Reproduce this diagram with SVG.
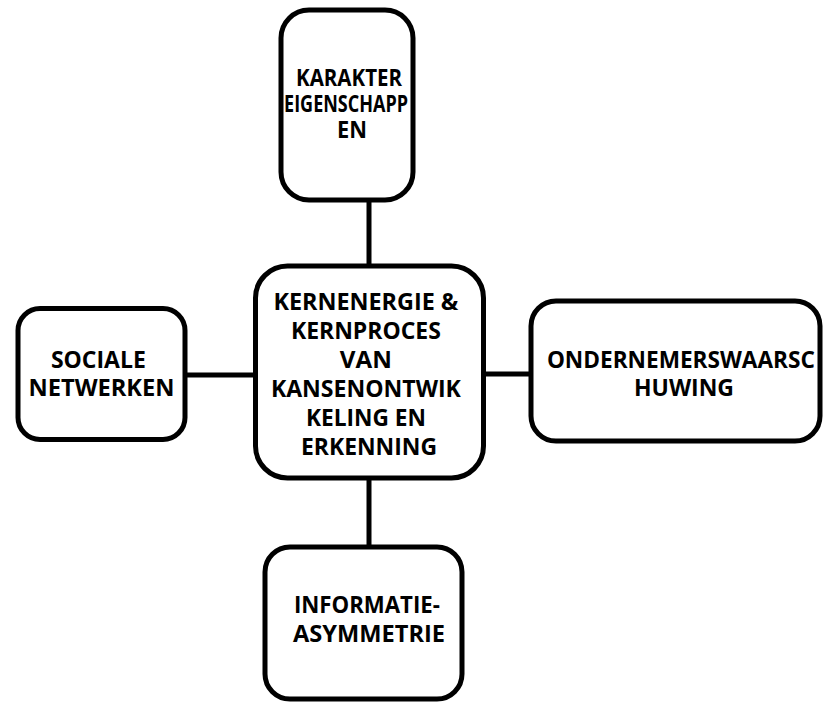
<svg xmlns="http://www.w3.org/2000/svg" width="832" height="710" viewBox="0 0 832 710">
  <style>
    .box { fill: #ffffff; stroke: #000000; stroke-width: 5; }
    .link { stroke: #000000; stroke-width: 5; fill: none; }
    .label { font-family: "Open Sans", "Liberation Sans", sans-serif; font-weight: 700; font-size: 24px; fill: #000000; text-anchor: middle; }
    .narrow { font-size: 22.5px; }
  </style>
  <rect x="0" y="0" width="832" height="710" fill="#ffffff"/>

  <!-- connectors between the central node and its four neighbours -->
  <g id="connectors">
    <line class="link" x1="369" y1="200" x2="369" y2="266"/>
    <line class="link" x1="369" y1="478" x2="369" y2="547"/>
    <line class="link" x1="185" y1="375" x2="256" y2="375"/>
    <line class="link" x1="484" y1="374" x2="531" y2="374"/>
  </g>

  <g id="node-karakter">
    <rect class="box" x="281" y="10" width="132" height="190" rx="28"/>
    <text class="label narrow">
      <tspan x="352" y="86" textLength="106" lengthAdjust="spacingAndGlyphs">KARAKTER</tspan>
      <tspan x="349" y="112" textLength="124" lengthAdjust="spacingAndGlyphs">EIGENSCHAPP</tspan>
      <tspan x="352" y="138" textLength="30" lengthAdjust="spacingAndGlyphs">EN</tspan>
    </text>
  </g>

  <g id="node-kern">
    <rect class="box" x="255.5" y="266" width="228" height="212" rx="32"/>
    <text class="label">
      <tspan x="369" y="310" textLength="185" lengthAdjust="spacingAndGlyphs">KERNENERGIE &amp;</tspan>
      <tspan x="369" y="339" textLength="150" lengthAdjust="spacingAndGlyphs">KERNPROCES</tspan>
      <tspan x="369" y="368" textLength="52" lengthAdjust="spacingAndGlyphs">VAN</tspan>
      <tspan x="369" y="397" textLength="190" lengthAdjust="spacingAndGlyphs">KANSENONTWIK</tspan>
      <tspan x="369" y="426" textLength="120" lengthAdjust="spacingAndGlyphs">KELING EN</tspan>
      <tspan x="369" y="455" textLength="136" lengthAdjust="spacingAndGlyphs">ERKENNING</tspan>
    </text>
  </g>

  <g id="node-sociale">
    <rect class="box" x="18" y="308.5" width="167" height="131" rx="22"/>
    <text class="label">
      <tspan x="101.5" y="368" textLength="95" lengthAdjust="spacingAndGlyphs">SOCIALE</tspan>
      <tspan x="101.5" y="396" textLength="146" lengthAdjust="spacingAndGlyphs">NETWERKEN</tspan>
    </text>
  </g>

  <g id="node-ondernemer">
    <rect class="box" x="531" y="301" width="289" height="140" rx="25"/>
    <text class="label">
      <tspan x="684" y="368" textLength="268" lengthAdjust="spacingAndGlyphs">ONDERNEMERSWAARSC</tspan>
      <tspan x="684" y="396" textLength="100" lengthAdjust="spacingAndGlyphs">HUWING</tspan>
    </text>
  </g>

  <g id="node-informatie">
    <rect class="box" x="265" y="547" width="197" height="152" rx="25"/>
    <text class="label">
      <tspan x="370" y="613" textLength="146" lengthAdjust="spacingAndGlyphs">INFORMATIE-</tspan>
      <tspan x="369" y="642" textLength="152" lengthAdjust="spacingAndGlyphs">ASYMMETRIE</tspan>
    </text>
  </g>
</svg>
